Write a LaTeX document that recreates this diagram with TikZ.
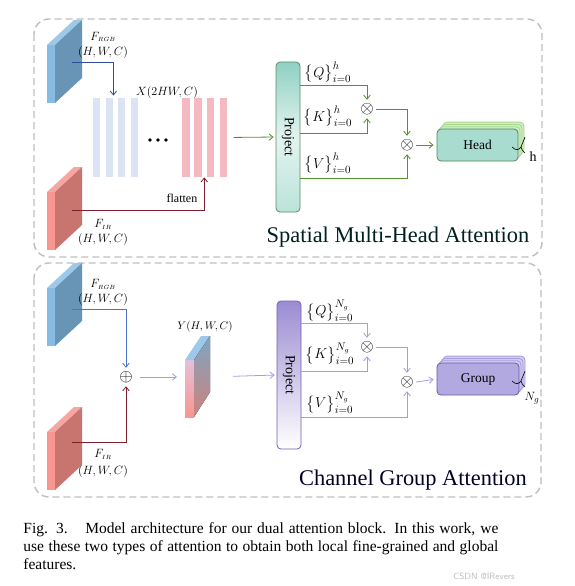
\documentclass[tikz,border=0pt]{standalone}
\usepackage{fontspec}
\setmainfont{Liberation Serif}
\usepackage{amsmath}
\usetikzlibrary{arrows.meta,positioning,calc}
\definecolor{gLine}{HTML}{53932F}
\definecolor{pLine}{HTML}{A99CDB}
\definecolor{rgbDark}{HTML}{2E4C9C}
\definecolor{rgbLight}{HTML}{4C74CC}
\definecolor{irDark}{HTML}{7C1E2B}
\definecolor{barBlue}{HTML}{DCE3F4}
\definecolor{barPink}{HTML}{F5B9C1}
\definecolor{bStrip}{HTML}{86BBE3}
\definecolor{bTop}{HTML}{9CC8EA}
\definecolor{bFace}{HTML}{6895B6}
\definecolor{rStrip}{HTML}{F8968F}
\definecolor{rTop}{HTML}{F6A7A1}
\definecolor{rFace}{HTML}{C8756F}
\definecolor{projTeal}{HTML}{8FD1C2}
\definecolor{projTealB}{HTML}{B9E3DA}
\definecolor{projEdgeG}{HTML}{5E8C62}
\definecolor{projLav}{HTML}{9B8CD2}
\definecolor{projEdgeP}{HTML}{7A5CB2}
\definecolor{headFill}{HTML}{A8DCCE}
\definecolor{headEdge}{HTML}{4F8A58}
\definecolor{headBack}{HTML}{CFEDC2}
\definecolor{headBackE}{HTML}{A9D98F}
\definecolor{grpFill}{HTML}{B3A9E1}
\definecolor{grpEdge}{HTML}{6658A8}
\definecolor{grpBack}{HTML}{D3CCF0}
\definecolor{grpBackE}{HTML}{A89CDD}
\tikzset{
  every picture/.style={line width=0.8pt},
  panel/.style={draw=gray!50, dash pattern=on 7pt off 4pt, line width=1.4pt, rounded corners=15pt},
  barB/.style={fill=barBlue, minimum width=7pt, minimum height=79pt, inner sep=0pt},
  barP/.style={fill=barPink, minimum width=7.5pt, minimum height=79pt, inner sep=0pt},
  tip/.style={-{Straight Barb[length=4pt,width=6.5pt]}},
  gArr/.style={draw=gLine, tip},
  pArr/.style={draw=pLine, tip},
  projG/.style={draw=projEdgeG, rounded corners=4pt,
                minimum width=24pt, minimum height=150pt, inner sep=0pt,
                top color=projTeal, bottom color=projTealB, middle color=projTeal!25!white,
                font=\fontsize{14}{14}\selectfont},
  projP/.style={draw=projEdgeP, rounded corners=4pt,
                minimum width=24pt, minimum height=148pt, inner sep=0pt,
                top color=projLav, bottom color=white,
                font=\fontsize{14}{14}\selectfont},
  opnode/.style={circle, inner sep=0pt, font=\fontsize{16}{16}\selectfont},
  qkv/.style={font=\fontsize{15}{15}\selectfont},
  flbl/.style={font=\fontsize{13}{13}\selectfont},
  dimlbl/.style={font=\fontsize{12}{12}\selectfont},
  title/.style={font=\fontsize{22.4}{22.4}\selectfont},
  pics/slab/.style n args={3}{code={
    \fill[#1] (0,0) rectangle (8,58);
    \fill[#2] (0,0) -- (27,-25) -- (35,-25) -- (8,0) -- cycle;
    \fill[#3] (8,0) -- (35,-25) -- (35,33) -- (8,58) -- cycle;
  }},
}
\begin{document}
\begin{tikzpicture}[x=1pt,y=-1pt]
  \useasboundingbox[fill=white] (0,0) rectangle (575,586);

  % panels
  \draw[panel] (34,19) rectangle (542,257);
  \draw[panel] (34,263) rectangle (541,497);

  %% ---- spatial multi-head attention ----
  \pic at (47,45)  {slab={bStrip}{bTop}{bFace}};
  \pic at (47,192) {slab={rStrip}{rTop}{rFace}};
  \node[flbl]   (rgbA)  at (103,37)  {$F_{\scriptscriptstyle RGB}$};
  \node[dimlbl] (rgbAd) at (103,53)  {$(H,W,C)$};
  \node[flbl]   (irA)   at (103,224) {$F_{\scriptscriptstyle IR}$};
  \node[dimlbl] (irAd)  at (103,239) {$(H,W,C)$};
  \coordinate (rgbAo) at (72,62);
  \coordinate (irAo)  at (72,210);

  \foreach \i/\x in {1/96.5,2/109.5,3/121.5,4/134}
    \node[barB] (b\i) at (\x,137.5) {};
  \foreach \i/\x in {1/186,2/198,3/210.5,4/223.5}
    \node[barP] (p\i) at (\x,137.5) {};
  \foreach \x in {150,158,166}
    \fill (\x,140) circle (1.8);
  \node[dimlbl] (xlbl) at (167,92) {$X(2HW,C)$};
  \node[dimlbl, anchor=east] (flat) at (201,198) {flatten};

  \draw[draw=rgbDark, tip] (rgbAo) -| ($(b2.north east)+(0,-2)$);
  \draw[draw=irDark, tip] (irAo) -| ($(p2.south east)!0.5!(p3.south west)$);

  \node[projG] (proj1) at (288,137) {\rotatebox{-90}{Project}};
  \draw[gArr, shorten <=6pt, shorten >=2pt] (p4.east) -- (proj1.west);

  \node[qkv] (q1) at (328,72)  {$\bigl\{Q\bigr\}_{i=0}^{h}$};
  \node[qkv] (k1) at (328,116) {$\bigl\{K\bigr\}_{i=0}^{h}$};
  \node[qkv] (v1) at (328,163) {$\bigl\{V\bigr\}_{i=0}^{h}$};
  \node[opnode] (m1) at (367,109) {$\otimes$};
  \node[opnode] (m2) at (407,145) {$\otimes$};
  \draw[gArr] (proj1.east |- 0,85)  -| (m1.north);
  \draw[gArr] (proj1.east |- 0,133) -| (m1.south);
  \draw[gArr] (m1.east) -| (m2.north);
  \draw[gArr] (proj1.east |- 0,178) -| (m2.south);

  \foreach \k in {3,2,1}
    \draw[draw=headBackE, fill=headBack, rounded corners=4pt]
      (437+2*\k,129-2.3*\k) rectangle (518+2*\k,161-2.3*\k);
  \node[draw=headEdge, fill=headFill, rounded corners=4pt,
        minimum width=81pt, minimum height=32pt, font=\fontsize{13.5}{13.5}\selectfont] (head) at (477.5,145) {Head};
  \draw[gArr, shorten >=3pt] (m2.east) -- (head.west);
  \draw[line width=0.6pt] (512,147) .. controls (516,151) and (519,150) .. (521,147)
        .. controls (522,144) and (524,140) .. (525,137);
  \draw[line width=0.6pt] (521,147) .. controls (522,150) .. (525,153);
  \node[font=\fontsize{14}{14}\selectfont] (hlbl) at (533,157) {h};

  \node[title, text=black!75!teal] (t1) at (398,237) {Spatial Multi-Head Attention};

  %% ---- channel group attention ----
  \pic at (47,288) {slab={bStrip}{bTop}{bFace}};
  \pic at (47,432) {slab={rStrip}{rTop}{rFace}};
  \node[flbl]   (rgbB)  at (103,284) {$F_{\scriptscriptstyle RGB}$};
  \node[dimlbl] (rgbBd) at (103,299) {$(H,W,C)$};
  \node[flbl]   (irB)   at (103,454) {$F_{\scriptscriptstyle IR}$};
  \node[dimlbl] (irBd)  at (103,471) {$(H,W,C)$};
  \coordinate (rgbBo) at (72,309);
  \coordinate (irBo)  at (72,442);

  \node[opnode, font=\fontsize{17}{17}\selectfont] (add) at (126,377) {$\oplus$};
  \draw[draw=rgbLight, tip] (rgbBo) -| (add.north);
  \draw[draw=irDark, tip] (irBo) -| (add.south);

  % fused slab Y
  \fill[top color=red!20!violet!25!white, bottom color=rStrip] (185,360) rectangle (194,417);
  \fill[color=bTop] (185,360) -- (201,336) -- (210,336) -- (194,360) -- cycle;
  \fill[top color=bFace!85!white, bottom color=rFace!90!white] (194,360) -- (210,336) -- (210,392) -- (194,417) -- cycle;
  \coordinate (ysl) at (185,377);
  \coordinate (ysr) at (210,377);
  \node[dimlbl, font=\fontsize{11}{11}\selectfont] (ylbl) at (205,327) {$Y(H,W,C)$};
  \draw[pArr, shorten <=5pt, shorten >=8pt] (add.east) -- (ysl);

  \node[projP] (proj2) at (289,375) {\rotatebox{-90}{Project}};
  \draw[pArr, shorten <=23pt, shorten >=2pt] (ysr) -- (proj2.west);

  \node[qkv] (q2) at (330,311) {$\bigl\{Q\bigr\}_{i=0}^{N_g}$};
  \node[qkv] (k2) at (330,354) {$\bigl\{K\bigr\}_{i=0}^{N_g}$};
  \node[qkv] (v2) at (330,403) {$\bigl\{V\bigr\}_{i=0}^{N_g}$};
  \node[opnode] (m3) at (367,347) {$\otimes$};
  \node[opnode] (m4) at (407,382) {$\otimes$};
  \draw[pArr] (proj2.east |- 0,323) -| (m3.north);
  \draw[pArr] (proj2.east |- 0,371) -| (m3.south);
  \draw[pArr] (m3.east) -| (m4.north);
  \draw[pArr] (proj2.east |- 0,417) -| (m4.south);

  \foreach \k in {3,2,1}
    \draw[draw=grpBackE, fill=grpBack, rounded corners=4pt]
      (437+2*\k,363-2.3*\k) rectangle (519+2*\k,395-2.3*\k);
  \node[draw=grpEdge, fill=grpFill, rounded corners=4pt,
        minimum width=82pt, minimum height=32pt, font=\fontsize{13.5}{13.5}\selectfont] (group) at (478,379) {Group};
  \draw[pArr, shorten >=3pt] (m4.east) -- (group.west);
  \draw[line width=0.6pt] (512,381) .. controls (516,385) and (519,384) .. (521,381)
        .. controls (522,378) and (524,374) .. (525,371);
  \draw[line width=0.6pt] (521,381) .. controls (522,384) .. (525,387);
  \node[font=\fontsize{13}{13}\selectfont] (nglbl) at (532,398) {$N_g$};

  \node[title, text=black!85!blue] (t2) at (413,480) {Channel Group Attention};

  % caption
  \node[anchor=north west, text width=475pt, align=justify, inner sep=0pt,
        font=\fontsize{15.5}{18.3}\selectfont] (cap) at (23,522)
    {Fig. 3.\hspace{0.6em} Model architecture for our dual attention block. In this work, we\linebreak use these two types of attention to obtain both local fine-grained and global\linebreak features.};
  \node[font=\sffamily\fontsize{9}{9}\selectfont, text=gray!50] (wm) at (484,576) {CSDN @IRevers};
\end{tikzpicture}
\end{document}
